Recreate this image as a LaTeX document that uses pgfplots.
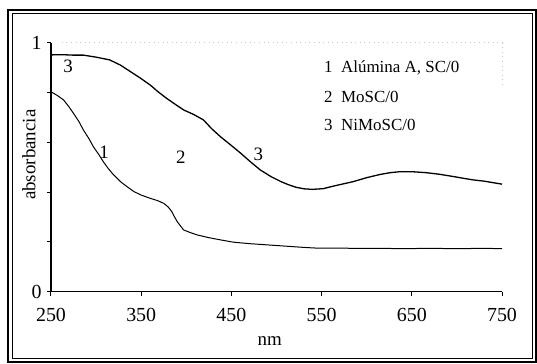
\documentclass[border=0pt]{standalone}
\usepackage{pgfplots}
\pgfplotsset{compat=1.18}
\usepackage{fontspec}
\setmainfont{Liberation Serif}
\begin{document}
\begin{tikzpicture}[x=1bp,y=1bp]
\useasboundingbox (-51,-71.3) rectangle (486,291.7);
% double frame
\draw[line width=1.6bp] (-43,-70) rectangle (485,281.5);
\draw[line width=0.8bp] (-39,-66.5) rectangle (481.5,278);
\begin{axis}[
  at={(0,0)}, anchor=origin,
  scale only axis, width=451bp, height=249bp,
  xmin=250, xmax=750, ymin=0, ymax=1,
  axis x line*=bottom, axis y line*=left,
  axis line style={line width=1.2bp, -},
  xtick={250,350,...,750},
  ytick={0,0.2,0.4,0.6,0.8,1},
  yticklabels={0,,,,,1},
  tick align=outside, major tick length=4bp,
  tick style={line width=1bp, black},
  /pgf/number format/assume math mode=true,
  /pgf/number format/1000 sep={},
  ticklabel style={font=\fontsize{20}{20}\selectfont},
  xticklabel style={yshift=-9bp},
  yticklabel style={xshift=-2bp},
  xlabel={nm}, ylabel={absorbancia},
  label style={font=\fontsize{19}{19}\selectfont},
  xlabel style={at={(axis description cs:0.485,0)}, anchor=north, yshift=-41bp},
  ylabel style={at={(axis description cs:0,0.55)}, anchor=south, yshift=12bp},
  clip=false,
]
% faint top and right borders
\draw[loosely dotted, gray!45, line width=0.6bp] (axis cs:262,1) -- (axis cs:750,1) -- (axis cs:750,0.82);
% curve 3 NiMoSC/0
\addplot[black, line width=1.3bp] coordinates {
(250,0.951) (262,0.952) (275,0.950) (286,0.950) (300,0.942) (315,0.931) (327,0.910)
(338,0.884) (349,0.858) (360,0.830) (369,0.802) (378,0.777) (388,0.752) (397,0.730)
(408,0.712) (419,0.690) (428,0.655) (438,0.622) (449,0.590) (460,0.557) (471,0.522)
(482,0.489) (494,0.462) (505,0.442) (513,0.430) (522,0.419) (531,0.413) (540,0.411)
(552,0.414) (563,0.424) (574,0.433) (585,0.442) (600,0.458) (615,0.471) (626,0.478)
(637,0.482) (650,0.482) (666,0.478) (680,0.472) (697,0.462) (708,0.455) (718,0.449)
(730,0.444) (740,0.438) (750,0.432)};
% curve 1 Alumina A, SC/0
\addplot[black, line width=1bp] coordinates {
(250,0.803) (257,0.788) (264,0.770) (270,0.742) (275,0.716) (281,0.683) (286,0.649)
(292,0.615) (297,0.582) (303,0.551) (308,0.522) (313,0.497) (318,0.475) (323,0.457)
(327,0.442) (335,0.420) (342,0.402) (350,0.388) (360,0.375) (368,0.366) (375,0.355)
(380,0.340) (384,0.321) (387,0.300) (390,0.281) (394,0.262) (397,0.248) (404,0.238)
(412,0.228) (425,0.217) (438,0.208) (452,0.199) (470,0.193) (490,0.188) (510,0.183)
(530,0.178) (545,0.175) (570,0.175) (590,0.174) (615,0.174) (640,0.173) (670,0.174)
(700,0.173) (730,0.174) (750,0.173)};
% curve labels
\node[font=\fontsize{19}{19}\selectfont] at (axis cs:269,0.905) {3};
\node[font=\fontsize{19}{19}\selectfont] at (axis cs:309,0.56) {1};
\node[font=\fontsize{19}{19}\selectfont] at (axis cs:394,0.54) {2};
\node[font=\fontsize{19}{19}\selectfont] at (axis cs:480,0.55) {3};
% legend text
\node[anchor=west, font=\fontsize{17}{17}\selectfont] at (axis cs:549,0.90) {1\ \ Alúmina A, SC/0};
\node[anchor=west, font=\fontsize{17}{17}\selectfont] at (axis cs:549,0.783) {2\ \ MoSC/0};
\node[anchor=west, font=\fontsize{17}{17}\selectfont] at (axis cs:549,0.668) {3\ \ NiMoSC/0};
\end{axis}
\end{tikzpicture}
\end{document}
